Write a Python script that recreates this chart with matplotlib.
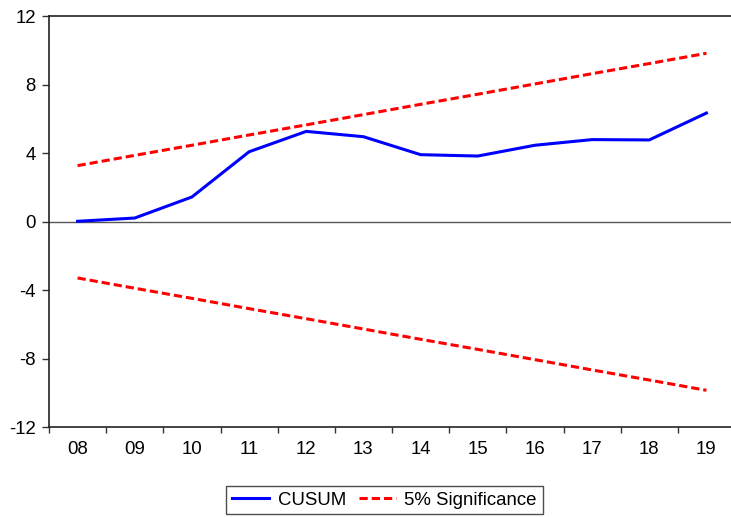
import matplotlib
matplotlib.use("Agg")
import matplotlib.pyplot as plt
from matplotlib.lines import Line2D

plt.rcParams['font.family'] = ['Liberation Sans', 'DejaVu Sans']

years = ["08", "09", "10", "11", "12", "13", "14", "15", "16", "17", "18", "19"]
cusum = [0.03, 0.22, 1.45, 4.09, 5.28, 4.97, 3.92, 3.84, 4.47, 4.80, 4.78, 6.35]
upper = [3.28, 3.88, 4.47, 5.07, 5.66, 6.26, 6.86, 7.45, 8.05, 8.65, 9.24, 9.84]
lower = [-v for v in upper]
y_ticks = [-12, -8, -4, 0, 4, 8, 12]

FS = 13.4

fig = plt.figure(figsize=(7.31, 5.17), dpi=100)
ax = fig.add_axes([49 / 731, 1 - 427.3 / 517, 686 / 731, 411 / 517])

x = list(range(len(years)))
ax.axhline(0, color="#555555", lw=1.0, zorder=1)
ax.plot(x, cusum, color="#0000ff", lw=2.2, solid_joinstyle="miter", zorder=3)
dash = (0, (2.7, 1.3))
ax.plot(x, upper, color="#ff0000", lw=2.2, linestyle=dash, zorder=2)
ax.plot(x, lower, color="#ff0000", lw=2.2, linestyle=dash, zorder=2)

ax.set_xlim(-0.5, len(years) - 0.5)
ax.set_ylim(-12, 12)
ax.set_yticks(y_ticks)
ax.set_yticklabels([str(v) for v in y_ticks])

# category boundaries get the tick marks, centers carry the labels
ax.set_xticks([i - 0.5 for i in range(len(years) + 1)])
ax.set_xticklabels([])
ax.set_xticks(x, minor=True)
ax.set_xticklabels(years, minor=True)
ax.tick_params(axis="x", which="major", direction="out", length=4.5, width=1, color="#333333")
ax.tick_params(axis="x", which="minor", length=0, pad=10, labelsize=FS)
ax.tick_params(axis="y", direction="out", length=5, width=1, pad=4.5, labelsize=FS, color="#333333")

for s in ax.spines.values():
    s.set_color("#222222")
    s.set_linewidth(1.2)

handles = [
    Line2D([], [], color="#0000ff", lw=2.2),
    Line2D([], [], color="#ff0000", lw=2.2, linestyle=dash),
]
leg = fig.legend(handles, ["CUSUM", "5% Significance"], loc="center",
                 bbox_to_anchor=(384.5 / 731, 1 - 500 / 517), ncol=2,
                 frameon=True, fancybox=False, edgecolor="#222222", fontsize=FS,
                 handlelength=2.0, handletextpad=0.45, columnspacing=0.7,
                 borderpad=0.3, borderaxespad=0.0)
leg.get_frame().set_linewidth(1.0)

fig.savefig("out.png", dpi=100)
